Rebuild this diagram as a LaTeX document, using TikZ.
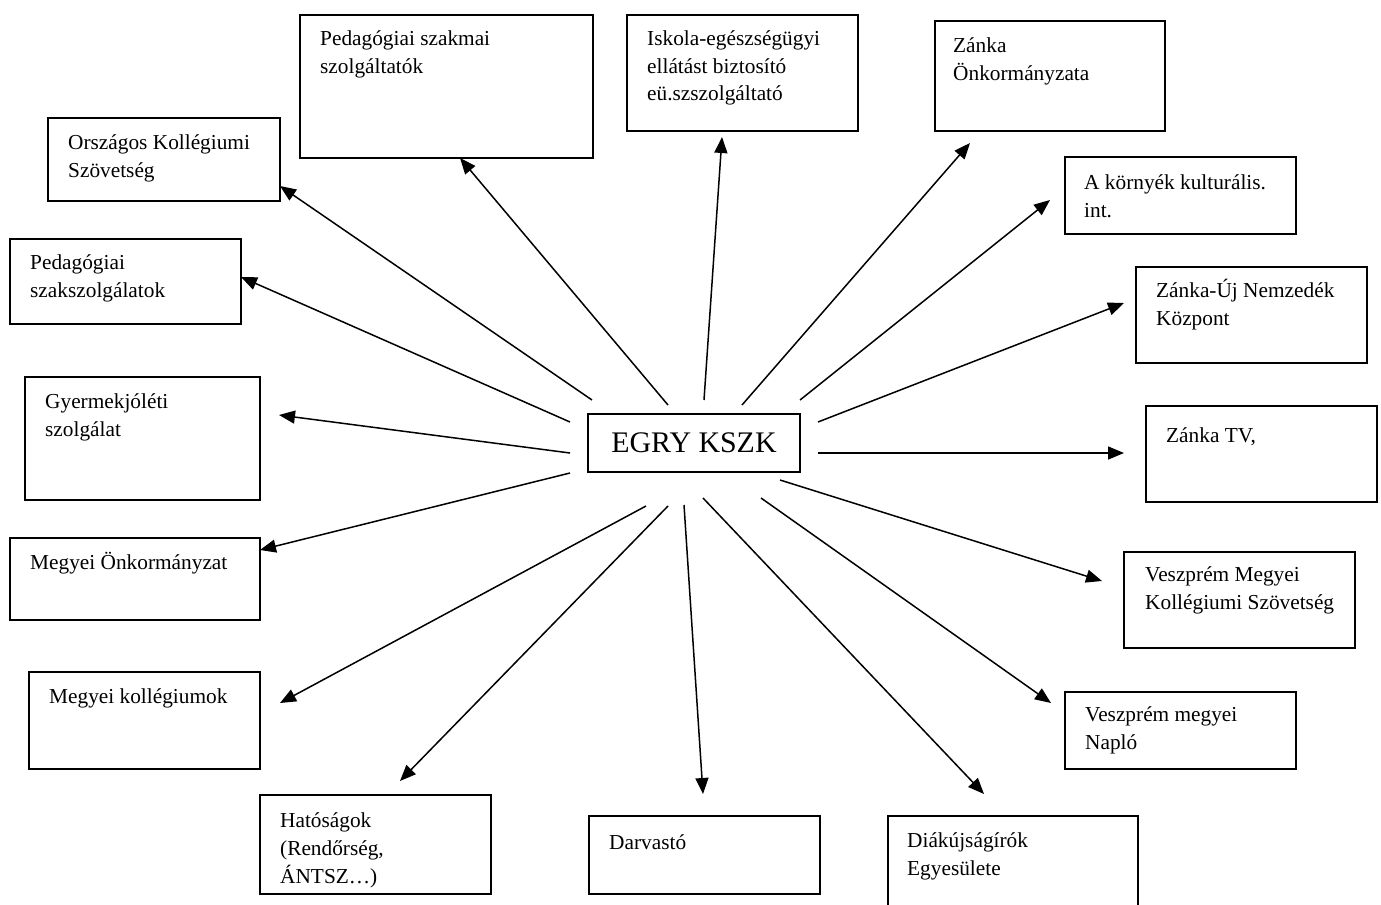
\documentclass[tikz,border=0pt]{standalone}
\usepackage{fontspec}
\setmainfont{Liberation Serif}
\usetikzlibrary{arrows.meta}
\newcommand{\FL}{\rule{0pt}{20bp}}
\begin{document}
\begin{tikzpicture}[x=1bp,y=-1bp,
  boxnode/.style={draw, line width=2bp, inner sep=0pt, anchor=north west, rectangle},
  txt/.style={anchor=north west, inner sep=0pt, align=left, font=\fontsize{21.4}{28}\selectfont},
  arr/.style={line width=1.5bp, -{Triangle[length=16bp,width=13bp]}}]
\useasboundingbox (0,0) rectangle (1381,904);
% boxes
\node[boxnode, minimum width=293bp, minimum height=143bp] (b1) at (299,14) {};
\node[boxnode, minimum width=231bp, minimum height=116bp] (b2) at (626,14) {};
\node[boxnode, minimum width=230bp, minimum height=110bp] (b3) at (934,20) {};
\node[boxnode, minimum width=232bp, minimum height=83bp] (b4) at (47,117) {};
\node[boxnode, minimum width=231bp, minimum height=77bp] (b5) at (1064,156) {};
\node[boxnode, minimum width=231bp, minimum height=85bp] (b6) at (9,238) {};
\node[boxnode, minimum width=231bp, minimum height=96bp] (b7) at (1135,266) {};
\node[boxnode, minimum width=235bp, minimum height=123bp] (b8) at (24,376) {};
\node[boxnode, minimum width=231bp, minimum height=96bp] (b9) at (1145,405) {};
\node[boxnode, minimum width=250bp, minimum height=82bp] (b10) at (9,537) {};
\node[boxnode, minimum width=231bp, minimum height=96bp] (b11) at (1123,551) {};
\node[boxnode, minimum width=231bp, minimum height=97bp] (b12) at (28,671) {};
\node[boxnode, minimum width=231bp, minimum height=77bp] (b13) at (1064,691) {};
\node[boxnode, minimum width=231bp, minimum height=99bp] (b14) at (259,794) {};
\node[boxnode, minimum width=231bp, minimum height=78bp] (b15) at (588,815) {};
\node[boxnode, minimum width=250bp, minimum height=105bp] (b16) at (887,815) {};
\node[draw, line width=2bp, inner sep=0pt, minimum width=212bp, minimum height=58bp,
      font=\fontsize{30}{36}\selectfont] (egry) at (694,443) {EGRY KSZK};
% texts
\node[txt] (t1) at (320,25) {\FL Pedagógiai szakmai\\szolgáltatók};
\node[txt] (t2) at (647,25) {\FL Iskola-egészségügyi\\ellátást biztosító\\eü.szszolgáltató};
\node[txt] (t3) at (953,32) {\FL Zánka\\Önkormányzata};
\node[txt] (t4) at (68,129) {\FL Országos Kollégiumi\\Szövetség};
\node[txt] (t5) at (1084,169) {\FL A környék kulturális.\\int.};
\node[txt] (t6) at (30,249) {\FL Pedagógiai\\szakszolgálatok};
\node[txt] (t7) at (1156,277) {\FL Zánka-Új Nemzedék\\Központ};
\node[txt] (t8) at (45,388) {\FL Gyermekjóléti\\szolgálat};
\node[txt] (t9) at (1166,422) {\FL Zánka TV,};
\node[txt] (t10) at (30,549) {\FL Megyei Önkormányzat};
\node[txt] (t11) at (1145,561) {\FL Veszprém Megyei\\Kollégiumi Szövetség};
\node[txt] (t12) at (49,683) {\FL Megyei kollégiumok};
\node[txt] (t13) at (1085,701) {\FL Veszprém megyei\\Napló};
\node[txt] (t14) at (280,807) {\FL Hatóságok\\(Rendőrség,\\ÁNTSZ…)};
\node[txt] (t15) at (609,829) {\FL Darvastó};
\node[txt] (t16) at (907,827) {\FL Diákújságírók\\Egyesülete};
% arrow end points
\coordinate (s1) at (668,405); \coordinate (e1) at (460,158);
\coordinate (s2) at (704,400); \coordinate (e2) at (722,137);
\coordinate (s3) at (742,405); \coordinate (e3) at (970,143);
\coordinate (s4) at (592,400); \coordinate (e4) at (280,186);
\coordinate (s5) at (800,400); \coordinate (e5) at (1050,200);
\coordinate (s6) at (570,422); \coordinate (e6) at (241,277);
\coordinate (s7) at (818,422); \coordinate (e7) at (1124,303);
\coordinate (s8) at (570,453); \coordinate (e8) at (279,415);
\coordinate (s9) at (818,453); \coordinate (e9) at (1124,453);
\coordinate (s10) at (570,473); \coordinate (e10) at (260,550);
\coordinate (s11) at (780,480); \coordinate (e11) at (1102,581);
\coordinate (s12) at (646,506); \coordinate (e12) at (280,703);
\coordinate (s13) at (761,498); \coordinate (e13) at (1051,703);
\coordinate (s14) at (668,506); \coordinate (e14) at (400,781);
\coordinate (s15) at (684,505); \coordinate (e15) at (703,794);
\coordinate (s16) at (703,498); \coordinate (e16) at (984,794);
\foreach \i in {1,...,16} {\draw[arr] (s\i) -- (e\i);}
\end{tikzpicture}
\end{document}
